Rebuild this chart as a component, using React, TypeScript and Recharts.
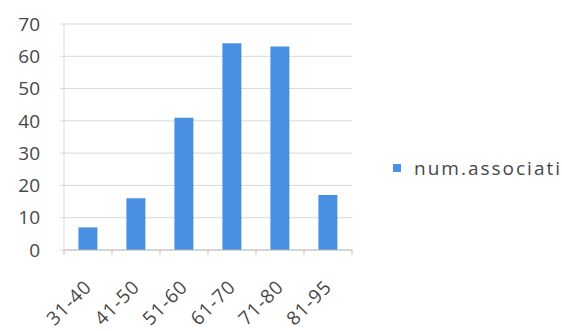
import React from "react";
import { BarChart, Bar, XAxis, YAxis, CartesianGrid, Legend } from "recharts";

const categories = ["31-40", "41-50", "51-60", "61-70", "71-80", "81-95"];
const counts = [7, 16, 41, 64, 63, 17];
const yTicks = [0, 10, 20, 30, 40, 50, 60, 70];

const data = categories.map((c, i) => ({ range: c, "num.associations": counts[i] }));

const FONT = "'Open Sans', 'Noto Sans', sans-serif";
const TEXT = "#474747";
const BLUE = "#4a90e2";

const XTick = (props: any) => {
  const { x, y, payload, index } = props;
  const half = 24;
  const ax = x + 5;
  const ay = y + 30;
  return (
    <g>
      <line x1={x - half} y1={y - 8} x2={x - half} y2={y - 3} stroke="#bfbfbf" />
      {index === categories.length - 1 && (
        <line x1={x + half} y1={y - 8} x2={x + half} y2={y - 3} stroke="#bfbfbf" />
      )}
      <text
        x={ax}
        y={ay}
        textAnchor="end"
        fill={TEXT}
        fontSize={19}
        letterSpacing={1}
        fontFamily={FONT}
        transform={`rotate(-45, ${ax}, ${ay})`}
      >
        {payload.value}
      </text>
    </g>
  );
};

const renderLegend = (props: any) => {
  const { payload } = props;
  return (
    <div style={{ fontFamily: FONT, fontSize: 19, letterSpacing: 2, color: TEXT, whiteSpace: "nowrap" }}>
      {payload.map((p: any) => (
        <div key={p.value} style={{ display: "flex", alignItems: "center" }}>
          <span style={{ display: "inline-block", width: 8, height: 8, background: p.color, marginRight: 13 }} />
          <span>{p.value}</span>
        </div>
      ))}
    </div>
  );
};

export default function App() {
  return (
    <div style={{ position: "absolute", left: 0, top: 0, width: 562, height: 331, background: "#fff", overflow: "hidden" }}>
      <BarChart
        width={562}
        height={331}
        data={data}
        margin={{ top: 24, right: 210, bottom: 0, left: 8 }}
        barCategoryGap="30%"
      >
        <CartesianGrid vertical={false} stroke="#d9d9d9" />
        <XAxis
          dataKey="range"
          interval={0}
          height={81}
          axisLine={{ stroke: "#bfbfbf" }}
          tickLine={false}
          tick={<XTick />}
        />
        <YAxis
          domain={[0, 70]}
          ticks={yTicks}
          width={56}
          axisLine={{ stroke: "#d9d9d9" }}
          tickLine={{ stroke: "#d9d9d9" }}
          tickSize={4}
          tickMargin={20}
          tick={{ fill: TEXT, fontSize: 19, fontFamily: FONT }}
        />
        <Legend
          layout="horizontal"
          align="center"
          verticalAlign="middle"
          content={renderLegend}
          wrapperStyle={{ left: 393, top: 155, width: 280 }}
        />
        <Bar dataKey="num.associations" fill={BLUE} isAnimationActive={false} />
      </BarChart>
    </div>
  );
}
